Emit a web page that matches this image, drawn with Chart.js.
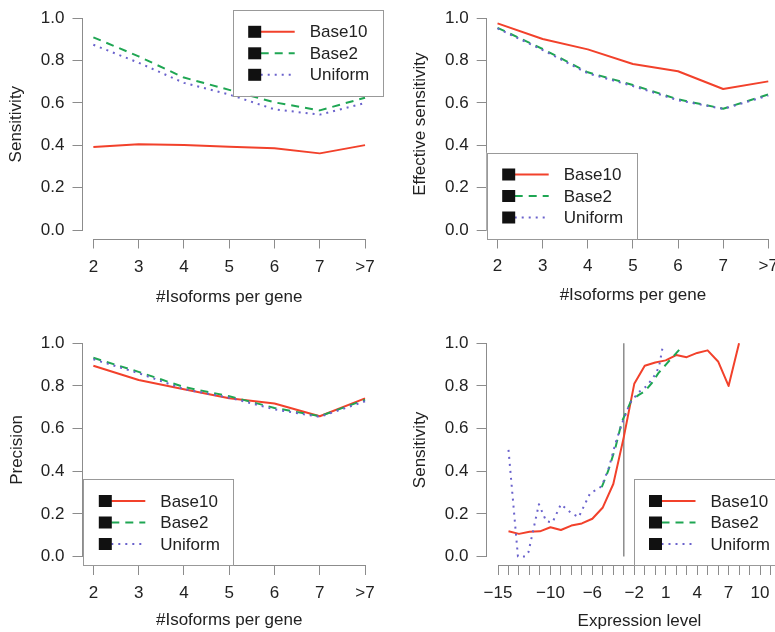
<!DOCTYPE html>
<html><head><meta charset="utf-8">
<script src="https://cdn.jsdelivr.net/npm/chart.js@4.4.0/dist/chart.umd.min.js"></script>
<style>
html,body{margin:0;padding:0;background:#fff;overflow:hidden;width:775px;height:632px;position:relative;}
canvas{position:absolute;}
</style></head><body>
<canvas id="c1" width="387" height="310" style="left:0px;top:0px"></canvas>
<canvas id="c2" width="415" height="310" style="left:385px;top:0px"></canvas>
<canvas id="c3" width="387" height="322" style="left:0px;top:310px"></canvas>
<canvas id="c4" width="415" height="322" style="left:385px;top:310px"></canvas>
<script>
// ---------- data ----------
const isoformLabels = ['2','3','4','5','6','7','>7'];
const yTickValues = [0, 0.2, 0.4, 0.6, 0.8, 1.0];
const yTickLabels = ['0.0','0.2','0.4','0.6','0.8','1.0'];

const sensBase10   = [0.392, 0.405, 0.402, 0.393, 0.386, 0.362, 0.401];
const sensBase2    = [0.910, 0.820, 0.720, 0.662, 0.603, 0.565, 0.625];
const sensUniform  = [0.875, 0.790, 0.695, 0.640, 0.570, 0.545, 0.600];

const effBase10    = [0.976, 0.902, 0.853, 0.784, 0.750, 0.666, 0.702];
const effBase2     = [0.955, 0.855, 0.745, 0.685, 0.617, 0.573, 0.640];
const effUniform   = [0.952, 0.850, 0.740, 0.680, 0.613, 0.572, 0.635];

const precBase10   = [0.895, 0.828, 0.785, 0.742, 0.718, 0.658, 0.742];
const precBase2    = [0.932, 0.866, 0.795, 0.752, 0.697, 0.658, 0.735];
const precUniform  = [0.925, 0.860, 0.785, 0.745, 0.690, 0.655, 0.728];

const exprBase10X  = [-14,-13,-12,-11,-10,-9,-8,-7,-6,-5,-4,-3,-2,-1,0,1,2,3,4,5,6,7,8];
const exprBase10   = [0.118,0.106,0.116,0.118,0.137,0.124,0.145,0.155,0.177,0.23,0.34,0.56,0.81,0.895,0.91,0.92,0.945,0.935,0.955,0.967,0.915,0.80,1.0];
const exprBase2X   = [-5.1,-4.5,-3.8,-3.2,-2.3,-1.6,-1.0,-0.3,0.3,1.1,2.3];
const exprBase2    = [0.325,0.40,0.51,0.63,0.73,0.757,0.775,0.815,0.86,0.905,0.97];
const exprUniformX = [-14.0,-13.1,-12.4,-12.1,-11.1,-10.4,-9.8,-9.0,-8.0,-7.3,-6.2,-5.6,-5.1,-4.4,-3.8,-3.2,-2.4,-1.6,-0.8,0.1,0.4,0.7];
const exprUniform  = [0.50,0.0,0.0,0.02,0.245,0.165,0.16,0.245,0.203,0.185,0.298,0.313,0.33,0.42,0.53,0.62,0.72,0.77,0.80,0.86,0.90,0.98];
const cutoffX      = [-3, -3];
const cutoffY      = [0, 1];
const exprTickValues  = [-15,-14,-13,-12,-11,-10,-9,-8,-7,-6,-5,-4,-3,-2,-1,0,1,2,3,4,5,6,7,8,9,10,11,12];
const exprLabelValues = [-15,-10,-6,-2,1,4,7,10];

// ---------- styles ----------
const FONT = '"Liberation Sans", Arial, Helvetica, sans-serif';
const TXT = '#222222';
const AXIS = '#8c8c8c';
const STY = {
  Base10:  {borderColor:'#f2412b', borderWidth:2, borderDash:[], order:3},
  Base2:   {borderColor:'#1fa653', borderWidth:2, borderDash:[8,6], order:2},
  Uniform: {borderColor:'#6a62cc', borderWidth:2, borderDash:[2,5], order:1}
};

function series(label, xs, ys) {
  return Object.assign({
    label, data: ys.map((v,i)=>({x:xs[i], y:v})),
    pointRadius:0, tension:0, fill:false, borderCapStyle:'butt', borderJoinStyle:'round'
  }, STY[label]);
}
const idx = isoformLabels.map((_,i)=>i+1);

const rPlugin = {
  id:'rStyle',
  afterDraw(chart, args, opt) {
    const {ctx, chartArea:ca, scales:{x,y}} = chart;
    ctx.save();
    ctx.strokeStyle = AXIS; ctx.lineWidth = 1; ctx.setLineDash([]);
    const xt = x.ticks, yt = y.ticks;
    const by = Math.round(ca.bottom) + 0.5, lx = Math.round(ca.left) - 0.5;
    ctx.beginPath();
    ctx.moveTo(x.getPixelForValue(xt[0].value), by);
    ctx.lineTo(x.getPixelForValue(xt[xt.length-1].value), by);
    ctx.moveTo(lx, y.getPixelForValue(yt[0].value));
    ctx.lineTo(lx, y.getPixelForValue(yt[yt.length-1].value));
    ctx.stroke();
    // legend
    const W = 150, H = 86;
    const x0 = opt.corner[1]==='l' ? ca.left + (opt.dx||0) : ca.right + (opt.dx||0) - W;
    const y0 = opt.corner[0]==='t' ? ca.top : ca.bottom - H;
    ctx.fillStyle = '#ffffff'; ctx.fillRect(x0, y0, W, H);
    ctx.strokeStyle = '#999999';
    ctx.strokeRect(Math.round(x0)+0.5, Math.round(y0)+0.5, W, H);
    const rows = [22, 43.5, 65];
    chart.data.datasets.filter(d=>!d.isRef).forEach((d,i)=>{
      const yy = y0 + rows[i];
      ctx.setLineDash(d.borderDash||[]); ctx.strokeStyle = d.borderColor; ctx.lineWidth = 2;
      ctx.beginPath(); ctx.moveTo(x0+28, yy); ctx.lineTo(x0+62, yy); ctx.stroke();
      ctx.setLineDash([]);
      ctx.fillStyle = '#111111'; ctx.fillRect(x0+15.5, yy-6, 13, 12);
      ctx.fillStyle = TXT; ctx.font = '17px ' + FONT;
      ctx.textBaseline = 'middle'; ctx.textAlign = 'left';
      ctx.fillText(d.label, x0+77, yy+1);
    });
    ctx.restore();
  }
};

function makeChart(id, c) {
  const font = {family: FONT, size: 17};
  const gridOpt = {display:true, drawOnChartArea:false, drawTicks:true, tickLength:10, color:AXIS, lineWidth:1};
  return new Chart(document.getElementById(id), {
    type:'line',
    data:{datasets:c.datasets},
    plugins:[rPlugin],
    options:{
      responsive:false, animation:false, devicePixelRatio:1,
      layout:{padding:{left:0, top:c.top, right:c.right, bottom:0}},
      plugins:{legend:{display:false}, tooltip:{enabled:false}, rStyle:c.legend},
      scales:{
        x:{
          type:'linear', min:c.xMin, max:c.xMax,
          afterBuildTicks:a=>{a.ticks = c.xTicks.map(v=>({value:v}));},
          afterFit:a=>{a.height = c.xHeight; a.paddingLeft = 0; a.paddingRight = 0;},
          ticks:{autoSkip:false, maxRotation:0, minRotation:0, padding:c.xTickPad, font, color:TXT,
                 callback:(v,i,t)=>c.xLabel(t[i].value)},
          grid:gridOpt, border:{display:false},
          title:{display:true, text:c.xTitle, font, color:TXT, padding:{top:0, bottom:c.xTitlePad}}
        },
        y:{
          type:'linear', min:-0.04, max:1.04,
          afterBuildTicks:a=>{a.ticks = yTickValues.map(v=>({value:v}));},
          afterFit:a=>{a.width = c.yWidth; a.paddingTop = 0; a.paddingBottom = 0;},
          ticks:{autoSkip:false, padding:8, font, color:TXT, callback:(v,i)=>yTickLabels[i]},
          grid:gridOpt, border:{display:false},
          title:{display:true, text:c.yTitle, font, color:TXT, padding:{top:c.yTitlePad, bottom:0}}
        }
      }
    }
  });
}

const catLabel = v => isoformLabels[v-1];
const exprLabel = v => exprLabelValues.includes(v) ? (v<0 ? '\u2212'+Math.abs(v) : String(v)) : '';

makeChart('c1', {
  datasets:[series('Base10', idx, sensBase10), series('Base2', idx, sensBase2), series('Uniform', idx, sensUniform)],
  xMin:0.76, xMax:7.24, xTicks:idx, xLabel:catLabel,
  top:9.8, right:11.1, yWidth:82.5, xHeight:71.5,
  xTickPad:9, xTitlePad:2.3, yTitlePad:6.5,
  xTitle:'#Isoforms per gene', yTitle:'Sensitivity',
  legend:{corner:'tr', dx:6.8}
});
makeChart('c2', {
  datasets:[series('Base10', idx, effBase10), series('Base2', idx, effBase2), series('Uniform', idx, effUniform)],
  xMin:0.76, xMax:7.24, xTicks:idx, xLabel:catLabel,
  top:9.8, right:20.9, yWidth:101.7, xHeight:71.5,
  xTickPad:8, xTitlePad:4.1, yTitlePad:24.8,
  xTitle:'#Isoforms per gene', yTitle:'Effective sensitivity',
  legend:{corner:'bl', dx:0}
});
makeChart('c3', {
  datasets:[series('Base10', idx, precBase10), series('Base2', idx, precBase2), series('Uniform', idx, precUniform)],
  xMin:0.76, xMax:7.24, xTicks:idx, xLabel:catLabel,
  top:24.8, right:11.1, yWidth:82.5, xHeight:67,
  xTickPad:8, xTitlePad:1.8, yTitlePad:7.1,
  xTitle:'#Isoforms per gene', yTitle:'Precision',
  legend:{corner:'bl', dx:0.8}
});
const refLine = {label:'', isRef:true, data:cutoffY.map((v,i)=>({x:cutoffX[i], y:v})),
  borderColor:'#8c8c8c', borderWidth:1.5, pointRadius:0, order:4};
makeChart('c4', {
  datasets:[series('Base10', exprBase10X, exprBase10), series('Base2', exprBase2X, exprBase2),
            series('Uniform', exprUniformX, exprUniform), refLine],
  xMin:-16.1, xMax:13.1, xTicks:exprTickValues, xLabel:exprLabel,
  top:24.8, right:7.5, yWidth:101.5, xHeight:67,
  xTickPad:8, xTitlePad:0, yTitlePad:24.8,
  xTitle:'Expression level', yTitle:'Sensitivity',
  legend:{corner:'br', dx:-9}
});
</script>
</body></html>
